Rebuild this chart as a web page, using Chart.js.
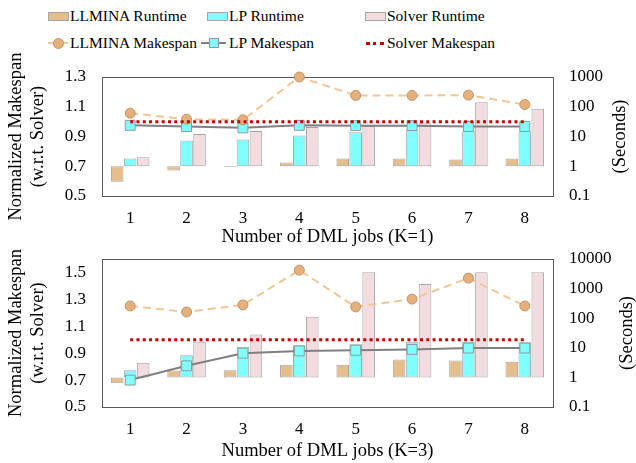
<!DOCTYPE html>
<html>
<head>
<meta charset="utf-8">
<script src="https://cdn.jsdelivr.net/npm/chart.js@4/dist/chart.umd.min.js"></script>
<style>
  body { margin: 0; width: 636px; height: 463px; background: #fff; position: relative; overflow: hidden; font-family: "Liberation Serif", serif; }
  canvas { position: absolute; left: 0; }
  #chartK1 { top: 50px; }
  #chartK3 { top: 245px; }
  .lg { position: absolute; font-size: 15.5px; line-height: 18px; color: #000; white-space: nowrap; }
  .box { position: absolute; width: 19px; height: 7px; border: 1px solid #a6a6a6; }
  .seg { position: absolute; height: 0; }
  .mark { position: absolute; }
</style>
</head>
<body>
<!-- legend -->
<div class="box" style="left:48px;top:12px;background:#e6be8c"></div>
<div class="lg" style="left:70px;top:7px">LLMINA Runtime</div>
<div class="box" style="left:207px;top:12px;background:#80ffff"></div>
<div class="lg" style="left:229px;top:7px">LP Runtime</div>
<div class="box" style="left:365px;top:12px;background:#f2dce0"></div>
<div class="lg" style="left:387px;top:7px">Solver Runtime</div>

<div class="seg" style="left:48px;top:42px;width:20px;border-top:2px dashed #f0c898"></div>
<div class="mark" style="left:53px;top:38px;width:9px;height:9px;border-radius:50%;background:#e6b07c;border:1px solid #c4946a"></div>
<div class="lg" style="left:70px;top:34px">LLMINA Makespan</div>
<div class="seg" style="left:201px;top:42px;width:25px;border-top:2px solid #808080"></div>
<div class="mark" style="left:209px;top:38px;width:8px;height:8px;background:#80ffff;border:1px solid #8c9c9c"></div>
<div class="lg" style="left:229px;top:34px">LP Makespan</div>
<div class="seg" style="left:366px;top:42px;width:18px;border-top:3px dotted #c00000"></div>
<div class="lg" style="left:387px;top:34px">Solver Makespan</div>

<canvas id="chartK1" width="636" height="200"></canvas>
<canvas id="chartK3" width="636" height="218"></canvas>

<script>
// Categories
const jobs = ['1', '2', '3', '4', '5', '6', '7', '8'];

// K=1 : runtimes (seconds, right log axis) and makespans (left axis)
const llminaRuntimeK1 = [0.30, 0.72, 0.95, 1.34, 1.83, 1.83, 1.69, 1.83];
const lpRuntimeK1 = [1.83, 7.4, 8.0, 10.9, 13.8, 16.2, 15.0, 15.0];
const solverRuntimeK1 = [2.0, 12.2, 15.3, 20.9, 23.2, 27.9, 143, 85];
const llminaMakespanK1 = [1.057, 1.016, 1.012, 1.30, 1.176, 1.176, 1.178, 1.115];
const lpMakespanK1 = [0.975, 0.967, 0.958, 0.975, 0.973, 0.973, 0.967, 0.967];
const solverMakespanK1 = [1, 1, 1, 1, 1, 1, 1, 1];

// K=3
const llminaRuntimeK3 = [0.63, 1.7, 1.75, 2.7, 2.7, 4.0, 3.7, 3.4];
const lpRuntimeK3 = [1.75, 5.6, 10.8, 12.2, 13.2, 15.9, 15.9, 15.5];
const solverRuntimeK3 = [3.1, 15.9, 28, 111, 3600, 1425, 3600, 3600];
const llminaMakespanK3 = [1.251, 1.206, 1.259, 1.517, 1.244, 1.302, 1.458, 1.251];
const lpMakespanK3 = [0.70, 0.806, 0.90, 0.917, 0.922, 0.928, 0.938, 0.938];
const solverMakespanK3 = [1, 1, 1, 1, 1, 1, 1, 1];

// Tick labels
const leftTicksK1 = [0.5, 0.7, 0.9, 1.1, 1.3];
const rightTicksK1 = [0.1, 1, 10, 100, 1000];
const leftTicksK3 = [0.5, 0.7, 0.9, 1.1, 1.3, 1.5];
const rightTicksK3 = [0.1, 1, 10, 100, 1000, 10000];

const FONT = '"Liberation Serif", serif';

// plot frame + right axis title (reads bottom-to-top)
const framePlugin = {
    id: 'frame',
    beforeDatasetsDraw(chart, args, opts) {
        const { ctx, chartArea: a } = chart;
        ctx.save();
        ctx.strokeStyle = '#595959';
        ctx.lineWidth = 1;
        ctx.strokeRect(Math.round(a.left) + 0.5, Math.round(a.top) + 0.5, Math.round(a.width), Math.round(a.height));
        ctx.translate(opts.titleX, (a.top + a.bottom) / 2);
        ctx.rotate(-Math.PI / 2);
        ctx.font = '18.5px ' + FONT;
        ctx.fillStyle = '#000';
        ctx.textAlign = 'center';
        ctx.textBaseline = 'middle';
        ctx.fillText('(Seconds)', 0, 0);
        ctx.restore();
    }
};

// fixed axis sizes, no extra label overhang padding
const fixSize = (prop, size) => scale => {
    scale[prop] = size;
    scale.paddingTop = 0;
    scale.paddingBottom = 0;
    scale.paddingLeft = 0;
    scale.paddingRight = 0;
};

// Build one panel
const createPanel = (canvasId, s) => {
    const ctx = document.getElementById(canvasId).getContext('2d');
    const bar = (label, values, color) => ({
        type: 'bar',
        label: label,
        data: values.map(v => [1, v]),   // bars grow from 1 second
        backgroundColor: color,
        borderColor: '#a6a6a6',
        borderWidth: 1,
        borderSkipped: false,
        yAxisID: 'y1',
        order: 1,
        barPercentage: 0.97,
        categoryPercentage: 0.69
    });
    return new Chart(ctx, {
        type: 'bar',
        data: {
            labels: jobs,
            datasets: [
                {
                    type: 'line', label: 'Solver Makespan', data: s.solverMakespan,
                    borderColor: '#c00000', borderWidth: 3, borderDash: [3, 3.3],
                    pointRadius: 0, yAxisID: 'y', order: 0, clip: false
                },
                {
                    type: 'line', label: 'LLMINA Makespan', data: s.llminaMakespan,
                    borderColor: '#f0c898', borderWidth: 2, borderDash: [8, 5],
                    pointStyle: 'circle', pointRadius: 5, pointBackgroundColor: '#e6b07c',
                    pointBorderColor: '#c4946a', pointBorderWidth: 1,
                    yAxisID: 'y', order: 0, clip: false
                },
                {
                    type: 'line', label: 'LP Makespan', data: s.lpMakespan,
                    borderColor: '#808080', borderWidth: 2,
                    pointStyle: 'rect', pointRadius: 7, pointBackgroundColor: '#80ffff',
                    pointBorderColor: '#8c9c9c', pointBorderWidth: 1,
                    yAxisID: 'y', order: 0, clip: false
                },
                bar('LLMINA Runtime', s.llminaRuntime, '#e6be8c'),
                bar('LP Runtime', s.lpRuntime, '#80ffff'),
                bar('Solver Runtime', s.solverRuntime, '#f2dce0')
            ]
        },
        options: {
            responsive: false,
            animation: false,
            layout: { padding: { top: s.padTop, left: 0, right: 0, bottom: 0 } },
            plugins: {
                legend: { display: false },
                tooltip: { enabled: false },
                frame: { titleX: s.secondsX }
            },
            scales: {
                x: {
                    grid: { display: false, drawTicks: false },
                    border: { display: false },
                    ticks: { color: '#000', font: { family: FONT, size: 17 }, padding: 12 },
                    title: {
                        display: true, text: s.xTitle, color: '#000',
                        font: { family: FONT, size: 18.5, lineHeight: 1.15 },
                        padding: { top: 0, bottom: s.xTitlePad }
                    },
                    afterFit: fixSize('height', s.xHeight)
                },
                y: {
                    position: 'left',
                    min: 0.5,
                    max: s.leftMax,
                    grid: { display: false, drawTicks: false },
                    border: { display: false },
                    afterBuildTicks: scale => { scale.ticks = s.leftTicks.map(v => ({ value: v })); },
                    ticks: { color: '#000', font: { family: FONT, size: 17 }, padding: 16, callback: v => v.toFixed(1) },
                    title: {
                        display: true, text: ['Normalized Makespan', '(w.r.t. Solver)'], color: '#000',
                        font: { family: FONT, size: 18.5, lineHeight: 1.15 },
                        padding: { top: 6, bottom: 0 }
                    },
                    afterFit: fixSize('width', 102)
                },
                y1: {
                    type: 'logarithmic',
                    position: 'right',
                    min: 0.1,
                    max: s.rightMax,
                    grid: { display: false, drawTicks: false },
                    border: { display: false },
                    afterBuildTicks: scale => { scale.ticks = s.rightTicks.map(v => ({ value: v })); },
                    ticks: { color: '#000', font: { family: FONT, size: 17 }, padding: 16, callback: v => String(v) },
                    afterFit: fixSize('width', 83)
                }
            }
        },
        plugins: [framePlugin]
    });
};

// Top panel (K=1)
createPanel('chartK1', {
    llminaRuntime: llminaRuntimeK1, lpRuntime: lpRuntimeK1, solverRuntime: solverRuntimeK1,
    llminaMakespan: llminaMakespanK1, lpMakespan: lpMakespanK1, solverMakespan: solverMakespanK1,
    leftTicks: leftTicksK1, rightTicks: rightTicksK1, leftMax: 1.3, rightMax: 1000,
    xTitle: 'Number of DML jobs (K=1)', padTop: 27, xHeight: 54, xTitlePad: 2, secondsX: 620
});

// Bottom panel (K=3)
createPanel('chartK3', {
    llminaRuntime: llminaRuntimeK3, lpRuntime: lpRuntimeK3, solverRuntime: solverRuntimeK3,
    llminaMakespan: llminaMakespanK3, lpMakespan: lpMakespanK3, solverMakespan: solverMakespanK3,
    leftTicks: leftTicksK3, rightTicks: rightTicksK3, leftMax: 1.6, rightMax: 10000,
    xTitle: 'Number of DML jobs (K=3)', padTop: 14, xHeight: 56, xTitlePad: 1, secondsX: 627
});
</script>
</body>
</html>
